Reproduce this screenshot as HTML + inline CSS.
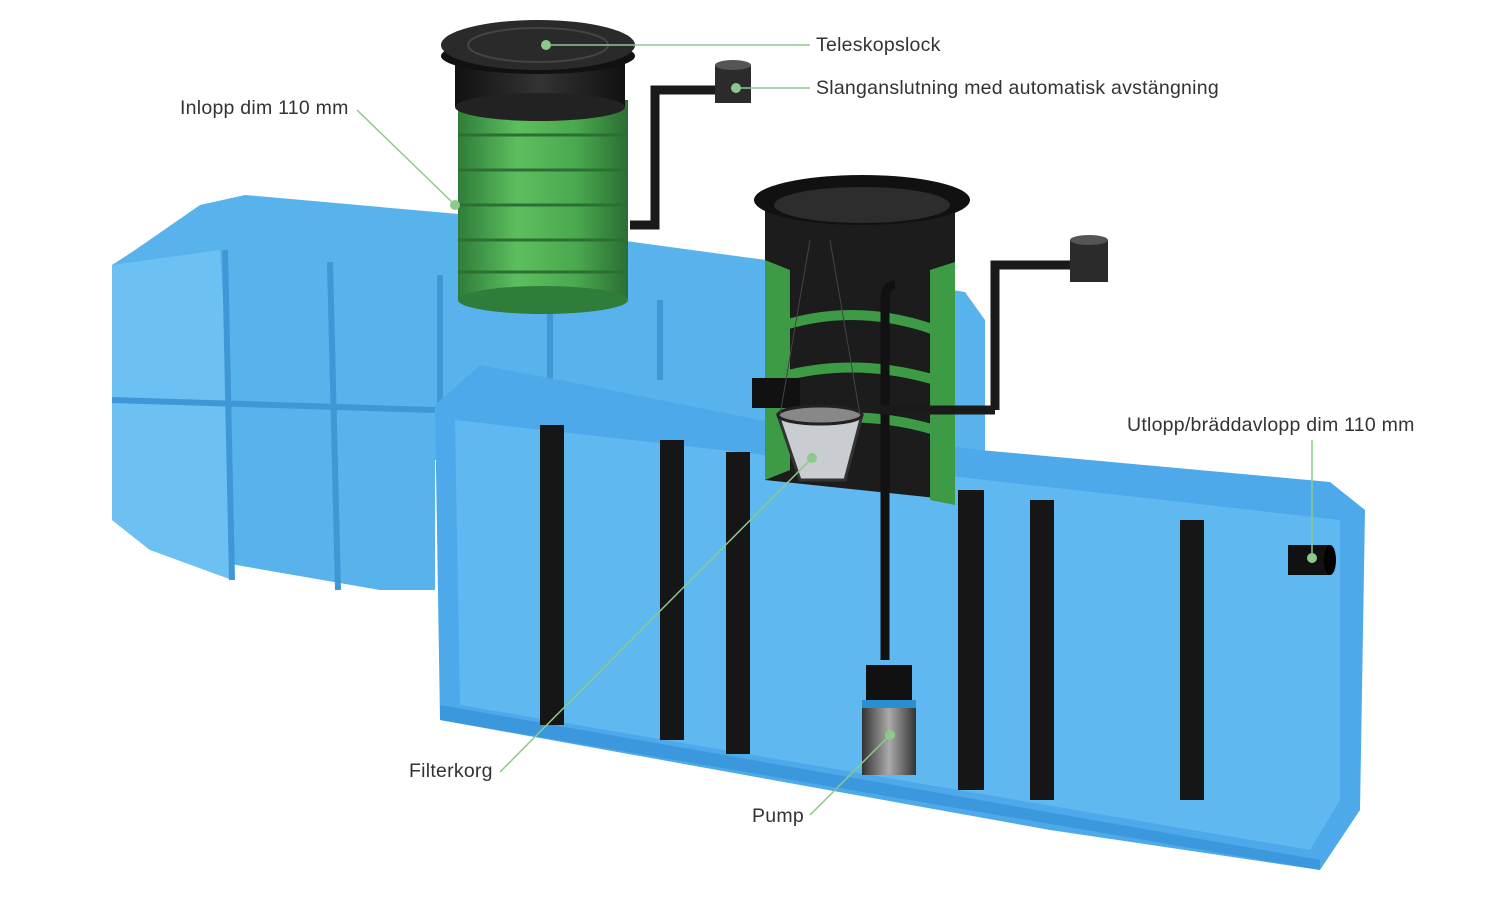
<!DOCTYPE html>
<html><head><meta charset="utf-8"><style>
html,body{margin:0;padding:0;background:#fff;}
svg{display:block;}
text{font-family:"Liberation Sans",sans-serif;font-size:19.5px;fill:#333;letter-spacing:0.25px;}
</style></head><body>
<svg width="1500" height="898" viewBox="0 0 1500 898">
<defs>
<linearGradient id="gr" x1="0" x2="1" y1="0" y2="0">
<stop offset="0" stop-color="#2f7d3a"/><stop offset="0.35" stop-color="#5cbf5e"/><stop offset="0.7" stop-color="#4aa84e"/><stop offset="1" stop-color="#2a6e33"/></linearGradient>
<linearGradient id="bk" x1="0" x2="1"><stop offset="0" stop-color="#111"/><stop offset="0.5" stop-color="#333"/><stop offset="1" stop-color="#111"/></linearGradient>
<linearGradient id="pm" x1="0" x2="1"><stop offset="0" stop-color="#333"/><stop offset="0.5" stop-color="#aaa"/><stop offset="1" stop-color="#333"/></linearGradient>
</defs>
<polygon points="112,265 135,250 200,205 245,195 470,215 560,232 780,262 965,292 985,320 985,460 435,460 435,590 380,590 150,550 112,520" fill="#58b2ec"/>
<polygon points="112,265 220,250 230,410 232,580 150,550 112,520" fill="#6cc0f2"/>
<g stroke="#3f97d6" stroke-width="6" fill="none">
<line x1="225" y1="250" x2="232" y2="580"/><line x1="330" y1="262" x2="338" y2="590"/>
<line x1="440" y1="275" x2="440" y2="460"/><line x1="550" y1="290" x2="550" y2="380"/>
<line x1="660" y1="300" x2="660" y2="380"/>
<line x1="112" y1="400" x2="435" y2="410"/>
</g>
<polygon points="435,405 480,365 560,380 760,420 980,450 1330,482 1365,510 1360,810 1320,870 1050,830 440,720" fill="#4ea9ea"/>
<polygon points="455,420 1340,520 1340,800 1310,850 460,705" fill="#5fb8f0"/>
<polygon points="440,705 1320,860 1320,870 440,720" fill="#3b98dc"/>
<g fill="#161616">
<rect x="540" y="425" width="24" height="300"/>
<rect x="660" y="440" width="24" height="300"/>
<rect x="726" y="452" width="24" height="302"/>
<rect x="958" y="490" width="26" height="300"/>
<rect x="1030" y="500" width="24" height="300"/>
<rect x="1180" y="520" width="24" height="280"/>
</g>
<rect x="458" y="100" width="170" height="200" fill="url(#gr)"/>
<ellipse cx="543" cy="300" rx="85" ry="14" fill="#2f7d3a"/>
<g stroke="#2c6f33" stroke-width="3">
<line x1="458" y1="135" x2="628" y2="135"/><line x1="458" y1="170" x2="628" y2="170"/>
<line x1="458" y1="205" x2="628" y2="205"/><line x1="458" y1="240" x2="628" y2="240"/><line x1="458" y1="272" x2="628" y2="272"/>
</g>
<rect x="455" y="62" width="170" height="45" fill="url(#bk)"/>
<ellipse cx="540" cy="107" rx="85" ry="14" fill="#222"/>
<ellipse cx="538" cy="56" rx="97" ry="18" fill="#111"/>
<ellipse cx="538" cy="45" rx="97" ry="25" fill="#2a2a2a"/>
<ellipse cx="538" cy="45" rx="70" ry="17" fill="none" stroke="#444" stroke-width="2"/>
<path d="M630,225 L655,225 L655,90 L720,90" stroke="#1a1a1a" stroke-width="9" fill="none"/>
<rect x="715" y="65" width="36" height="38" fill="#2b2b2b"/><ellipse cx="733" cy="65" rx="18" ry="5" fill="#555"/>
<polygon points="765,205 955,205 955,500 765,480" fill="#1c1c1c"/>
<polygon points="765,260 790,270 790,470 765,480" fill="#3d9b45"/>
<polygon points="930,270 955,262 955,505 930,500" fill="#3d9b45"/>
<path d="M770,330 Q850,300 935,330 M770,380 Q850,355 935,380 M770,430 Q850,405 935,430" stroke="#3d9b45" stroke-width="10" fill="none"/>
<ellipse cx="862" cy="200" rx="108" ry="25" fill="#111"/>
<ellipse cx="862" cy="205" rx="88" ry="18" fill="#2d2d2d"/>
<rect x="752" y="378" width="48" height="30" fill="#111"/>
<polygon points="778,415 862,415 845,480 800,480" fill="#c9ccd0" stroke="#333" stroke-width="3"/>
<ellipse cx="820" cy="415" rx="42" ry="9" fill="#888" stroke="#222" stroke-width="3"/>
<line x1="810" y1="240" x2="780" y2="415" stroke="#444"/><line x1="830" y1="240" x2="860" y2="415" stroke="#444"/>
<path d="M885,300 L885,660" stroke="#111" stroke-width="9" fill="none"/>
<path d="M885,300 Q885,285 895,285" stroke="#111" stroke-width="9" fill="none"/>
<line x1="880" y1="410" x2="995" y2="410" stroke="#1a1a1a" stroke-width="9"/>
<path d="M995,410 L995,265 L1075,265" stroke="#1a1a1a" stroke-width="9" fill="none"/>
<rect x="1070" y="240" width="38" height="42" fill="#2b2b2b"/><ellipse cx="1089" cy="240" rx="19" ry="5" fill="#555"/>
<rect x="866" y="665" width="46" height="40" fill="#111"/>
<rect x="862" y="700" width="54" height="75" fill="url(#pm)"/>
<rect x="862" y="700" width="54" height="8" fill="#2a8fd0"/>
<rect x="1288" y="545" width="42" height="30" fill="#111"/>
<ellipse cx="1330" cy="560" rx="6" ry="15" fill="#000"/>
<g stroke="#8cc98c" stroke-width="1.5" fill="none">
<line x1="546" y1="45" x2="810" y2="45"/>
<line x1="736" y1="88" x2="810" y2="88"/>
<line x1="357" y1="110" x2="455" y2="205"/>
<line x1="1312" y1="440" x2="1312" y2="558"/>
<line x1="500" y1="772" x2="812" y2="458"/>
<line x1="810" y1="815" x2="890" y2="735"/>
</g>
<g fill="#8cc98c">
<circle cx="546" cy="45" r="5"/><circle cx="736" cy="88" r="5"/><circle cx="455" cy="205" r="5"/>
<circle cx="1312" cy="558" r="5"/><circle cx="812" cy="458" r="5"/><circle cx="890" cy="735" r="5"/>
</g>
<text x="816" y="51">Teleskopslock</text>
<text x="816" y="94">Slanganslutning med automatisk avstängning</text>
<text x="180" y="114">Inlopp dim 110 mm</text>
<text x="1127" y="431">Utlopp/bräddavlopp dim 110 mm</text>
<text x="409" y="777">Filterkorg</text>
<text x="752" y="822">Pump</text>
</svg>
</body></html>
